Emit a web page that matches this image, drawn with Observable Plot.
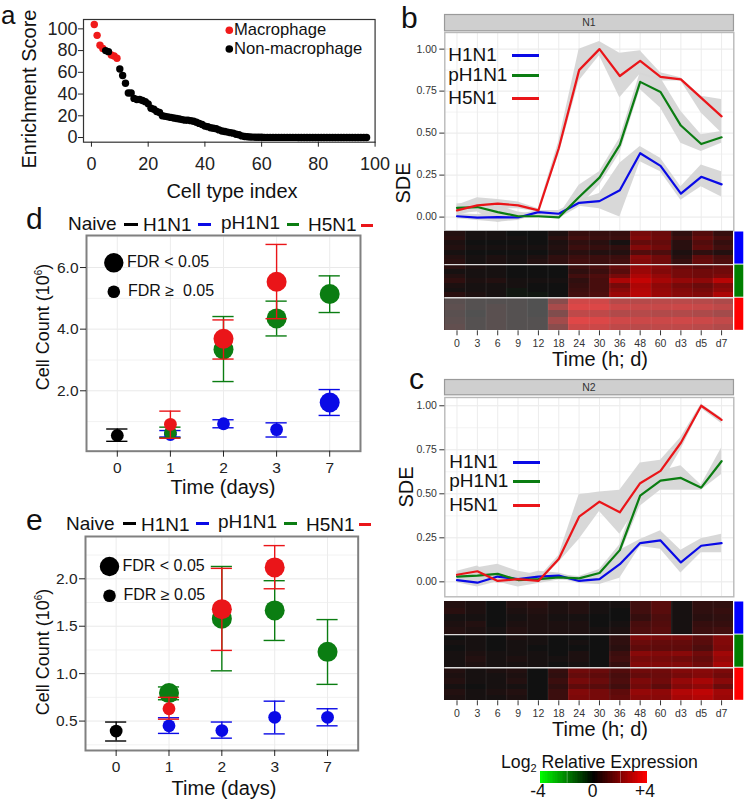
<!DOCTYPE html>
<html><head><meta charset="utf-8">
<script src="https://cdn.jsdelivr.net/npm/d3@7"></script>
<script src="https://cdn.jsdelivr.net/npm/@observablehq/plot@0.6"></script>
<style>
html,body{margin:0;padding:0;background:#fff}
#page{position:relative;width:744px;height:800px;overflow:hidden;font-family:"Liberation Sans",Arial,sans-serif;color:#111}
#page svg{position:absolute;background:transparent;overflow:visible}
.t{position:absolute;white-space:nowrap;line-height:.78}
.d{position:absolute}
</style></head><body><div id="page"></div>
<script>
// ---------- Panel a ----------
const enrichment = [104,94,85,82,80,79,76,75,73,63,57,50,41,41,36,35,35,34,33,31,27,26,24,23,20,19.5,19,18.5,18,17.5,17,16.5,16,16,15.5,15,14,13,12,10.5,10,9,8.5,8,7,6,5.5,5,4.5,4,3,2.5,1.5,1,.7,.5,.4,.3,.2,.2,.1,.1,.1,.1,.1,.1,.1,.1,.1,.1,.1,.1,0,0,0,0,0,0,0,0,0,0,0,0,0,0,0,0,0,0,0,0,0,0,0,0,0];
const macrophageIdx = [1,2,3,4,7,8,9];
// ---------- Time-course labels ----------
const timeLabels = ["0","3","6","9","12","18","24","30","36","48","60","d3","d5","d7"];
// ---------- Panel b, N1 ----------
const n1H1 = [.005,-.003,0,-.002,.03,.02,.085,.095,.16,.38,.305,.14,.24,.195];
const n1H1lo = [-.01,-.02,-.03,-.02,.015,0,.065,.05,0,.33,.27,.10,.18,.12];
const n1H1hi = [.02,.015,.03,.015,.04,.04,.1,.14,.32,.42,.35,.18,.31,.27];
const n1P = [.055,.06,.03,.005,.005,-.002,.12,.235,.43,.805,.745,.545,.435,.475];
const n1Plo = [.02,.03,-.03,-.01,-.005,-.01,.06,.19,.38,.76,.65,.44,.39,.44];
const n1Phi = [.08,.08,.07,.03,.015,.01,.19,.27,.47,.86,.83,.63,.49,.51];
const n1H5 = [.04,.07,.08,.07,.04,.41,.875,1,.84,.93,.835,.82,.71,.6];
const n1H5lo = [.01,.04,.05,.05,.03,.37,.81,.96,.71,.85,.81,.81,.62,.5];
const n1H5hi = [.07,.115,.105,.09,.05,.45,1,1.045,.975,.99,.86,.83,.72,.7];
// ---------- Panel c, N2 ----------
const n2H1 = [.01,-.005,.03,.015,.03,.035,.005,.015,.1,.22,.235,.11,.205,.22];
const n2H1lo = [-.005,-.03,0,-.005,0,.02,-.01,-.015,.02,.2,.185,.05,.165,.165];
const n2H1hi = [.02,.02,.05,.03,.06,.05,.02,.04,.18,.24,.29,.18,.245,.27];
const n2P = [.03,.035,.045,.01,.015,.025,.02,.05,.18,.49,.575,.59,.535,.685];
const n2Plo = [.015,0,0,-.03,-.01,.01,.005,.03,.15,.43,.52,.52,.52,.61];
const n2Phi = [.05,.08,.1,.06,.04,.04,.03,.07,.21,.54,.63,.66,.55,.76];
const n2H5 = [.04,.06,.005,.015,.005,.13,.37,.455,.395,.56,.63,.79,1,.92];
const n2H5lo = [.02,.03,-.01,-.01,-.005,.11,.24,.4,.27,.45,.55,.75,.985,.9];
const n2H5hi = [.06,.09,.02,.04,.02,.15,.495,.51,.52,.675,.69,.82,1.01,.93];
// ---------- Heatmaps (log2 relative expression) ----------
const heatN1H1 = [
 [.3,.1,.1,0,0,.2,.6,.6,.6,1.7,1.5,.5,1.1,.6],
 [.4,.1,.1,.1,0,.4,.8,.7,.7,1.9,1.6,.7,1.4,.9],
 [.2,0,0,0,0,.2,.5,.4,.1,1.4,1.4,.4,1.1,.6],
 [.3,.1,.1,.1,.1,.3,.7,.6,.5,1.9,1.6,.4,1.3,.8],
 [.1,0,0,0,0,.2,.4,.3,.3,1.1,1,.2,.5,.3],
 [.3,.1,.2,.1,.2,.5,.7,.7,.7,2,1.6,.4,1.3,.9],
 [.4,.1,.2,.1,.3,.5,.8,.7,.8,1.9,1.6,.6,1.4,1]];
const heatN1P = [
 [.4,.2,.1,0,0,0,.7,.9,1.4,2.2,2,1.5,1.3,1.5],
 [.1,.1,.1,0,0,0,.5,.7,1.2,2.3,1.9,1.7,1.6,1.6],
 [.3,.1,.1,0,0,0,.8,1,1.7,2.6,2.2,1.7,1.6,1.8],
 [.5,.2,.3,.1,.1,.1,.5,.9,2.6,3,2.5,2.2,2.1,2.8],
 [.2,.1,.1,.1,0,0,.6,.9,1.7,2.6,2.1,1.7,1.5,1.9],
 [.1,.1,.1,-.1,0,0,.7,.9,2,2.7,2.2,1.9,1.7,2.1],
 [.4,.2,.1,-.1,-.1,0,.8,1,2.3,2.8,2.3,2,1.9,2.6]];
const heatN1H5 = [
 [.2,.1,.1,.1,0,1.3,2.9,2.9,2.3,2.3,2.4,2.4,2.3,2.1],
 [.3,.1,.2,.1,0,2,3.2,3.2,2.8,2.7,2.7,2.8,2.7,2.5],
 [.2,0,.2,.1,0,1.1,2.5,2.5,2.2,2.3,2.2,2.2,2.1,1.9],
 [.3,.1,.2,.1,.1,1.9,3.3,3.2,2.9,2.8,2.8,2.9,2.8,2.6],
 [.4,.1,.2,.1,.1,1.3,2.8,2.8,2.5,2.4,2.5,2.5,2.4,2.2]];
const heatN2H1 = [
 [.3,.2,0,.3,.4,.2,.3,.1,.1,.8,1.2,.1,.5,.5],
 [.4,.2,0,.2,.3,.2,.3,.1,0,.8,1.2,.1,.5,.6],
 [.1,.1,0,.1,.2,.1,.1,0,0,.6,1,.1,.4,.5],
 [.2,.3,0,.2,.2,.2,.2,0,.1,.9,1.1,.1,.6,.6],
 [.3,.2,.1,.3,.2,.2,.2,.1,.2,1,1.2,.1,.7,.8]];
const heatN2P = [
 [0,.1,0,.2,.1,0,0,0,.5,1.8,1.7,1.7,1.3,1.9],
 [.1,.1,0,.1,.1,0,.1,0,.5,1.5,1.4,1.4,1.2,1.9],
 [0,.1,0,.1,0,0,0,0,.4,1.3,1.3,1.3,1,1.8],
 [.1,.2,.1,.1,.1,0,.2,0,.7,2,1.9,2,1.6,2.4],
 [.1,.3,.1,.2,.1,.1,.2,0,.8,1.7,1.7,1.6,1.4,2.2],
 [.1,.2,.1,.1,.1,0,.1,0,.6,1.9,1.9,1.9,1.6,2.5]];
const heatN2H5 = [
 [.3,.1,.2,.3,0,.6,1.6,1.5,1.1,1.6,1.6,1.9,2,1.8],
 [.2,.1,.1,.2,0,.5,1.4,1.3,.9,1.4,1.5,1.7,1.9,1.6],
 [.3,.1,.1,.3,0,.7,1.7,1.5,1,1.8,1.6,2.2,2.5,2],
 [.1,0,.1,.1,0,.5,1.3,1.2,.8,1.6,1.3,1.9,2.1,1.5],
 [.3,.1,.2,.3,0,.7,1.9,1.7,1.3,2.2,2.1,2.7,2.9,2.4],
 [.2,.1,.1,.2,0,.7,1.8,1.7,1.4,2,2,2.5,2.7,2.3]];
// ---------- Panels d, e: [day index, mean, low, high, FDR<0.05] ----------
const dayLabels = ["0","1","2","3","7"];
const dNaive = [[0,.55,.36,.76,0]];
const dH1 = [[1,.58,.5,.71,0],[2,.93,.8,1.06,0],[3,.74,.5,.96,0],[4,1.62,1.2,2.04,1]];
const dP = [[1,.64,.48,.82,0],[2,3.34,2.3,4.41,1],[3,4.35,3.78,4.91,1],[4,5.14,4.54,5.73,1]];
const dH5 = [[1,.91,.46,1.34,0],[2,3.69,3.03,4.3,1],[3,5.54,4.34,6.75,1]];
const eNaive = [[0,.395,.29,.49,0]];
const eH1 = [[1,.45,.37,.535,0],[2,.4,.32,.49,0],[3,.54,.365,.71,0],[4,.54,.45,.63,0]];
const eP = [[1,.795,.725,.86,1],[2,1.58,1.03,2.13,1],[3,1.667,1.35,1.98,1],[4,1.23,.887,1.57,1]];
const eH5 = [[1,.63,.52,.75,0],[2,1.68,1.245,2.11,1],[3,2.12,1.895,2.35,1]];

const BLUE="#0a0ae6", GREEN="#0b7d12", RED="#ea1519", BLACK="#000";
const page = document.getElementById("page");

function txt(html,x,y,size,o={}){
  const e=document.createElement("div");e.className="t";e.innerHTML=html;
  e.style.left=x+"px";e.style.top=y+"px";e.style.fontSize=size+"px";
  e.style.transform=o.rot?"translate(-50%,-50%) rotate(-90deg)":o.center?"translate(-50%,-50%)":"translateY(-50%)";
  if(o.lh)e.style.lineHeight=o.lh;
  page.appendChild(e);
}
function dash(x0,x1,y,c,w=3){
  const e=document.createElement("div");e.className="d";
  e.style.cssText+=`left:${x0}px;top:${Math.round(y-w/2)}px;width:${x1-x0}px;height:${w}px;background:${c};`;
  page.appendChild(e);
}
// place a Plot so its frame occupies the box x0..x1, y0..y1
function panel(box,m,opts){
  const [x0,y0,x1,y1]=box,[mt,mr,mb,ml]=m;
  const svg=Plot.plot({width:x1-x0+ml+mr,height:y1-y0+mt+mb,marginTop:mt,marginRight:mr,marginBottom:mb,marginLeft:ml,
    style:{fontFamily:'"Liberation Sans",Arial,sans-serif',background:"transparent",overflow:"visible"},...opts});
  svg.style.left=(x0-ml)+"px";svg.style.top=(y0-mt)+"px";
  page.appendChild(svg);
}

// ---- Panel a ----
const aRows=enrichment.map((v,i)=>({i:i+1,v,mac:macrophageIdx.includes(i+1)}));
panel([82.7,19,374.3,141.7],[2,14,30,50],{
  x:{domain:[-2.8,100]},y:{domain:[-4.3,108.6]},
  marks:[
    Plot.dot(aRows,{x:"i",y:"v",r:3.7,fill:d=>d.mac?"#f01a1a":"#000",sort:d=>d.mac?0:1}),
    Plot.frame({stroke:"#333",strokeWidth:1.2}),
    Plot.axisX({ticks:[0,20,40,60,80,100],tickSize:5,tickPadding:10,fontSize:18,label:null,color:"#222"}),
    Plot.axisY({ticks:[0,20,40,60,80,100],tickSize:5,tickPadding:1,fontSize:18,label:null,color:"#222"})
  ]});
txt("a",1,14.6,26,{lh:.4});
txt("Enrichment Score",30,89,20,{rot:1});
txt("Cell type index",232,192,20,{center:1});
txt("Macrophage",234,29.5,16.6,{lh:.7});
txt("Non-macrophage",234,48.5,16.6,{lh:.7});
panel([220,24,240,54],[0,0,0,0],{x:{domain:[0,1],axis:null},y:{domain:[0,1],axis:null},
  marks:[Plot.dot(["Macrophage"],{frameAnchor:"top-left",dx:8.8,dy:5.7,r:3.8,fill:"#f01a1a"}),
         Plot.dot(["Non-macrophage"],{frameAnchor:"top-left",dx:8.8,dy:24.5,r:3.8,fill:"#000"})]});

// ---- Line panels ----
const hours=timeLabels.map((_,i)=>i);
function tidy(m,lo,hi){return m.map((v,i)=>({i,v,lo:lo[i],hi:hi[i]}));}
function linePanel(box,ydom,series){
  const minor=[.125,.375,.625,.875];
  panel(box,[2,10.7,2,54.3],{
    x:{domain:[-.6,13.6],axis:null},y:{domain:ydom,axis:null},
    marks:[
      Plot.ruleY(minor,{stroke:"#f3f3f3"}),
      Plot.ruleY([0,.25,.5,.75,1],{stroke:"#e8e8e8"}),
      Plot.ruleX(hours,{stroke:"#ececec"}),
      ...series.map(s=>Plot.areaY(s.rows,{x:"i",y1:"lo",y2:"hi",fill:"#d6d6d6",fillOpacity:.95})),
      ...series.map(s=>Plot.lineY(s.rows,{x:"i",y:"v",stroke:s.c,strokeWidth:2.2})),
      Plot.frame({stroke:"#b9b9b9",strokeWidth:1.4}),
      Plot.axisY({ticks:[0,.25,.5,.75,1],tickFormat:d3.format(".2f"),tickSize:5,tickPadding:3,fontSize:10.5,label:null,color:"#333"})
    ]});
}
function strip(box,label){
  panel(box,[0,0,0,0],{x:{domain:[0,1],axis:null},y:{domain:[0,1],axis:null},
    marks:[Plot.frame({fill:"#cfcfcf",stroke:"#9a9a9a",strokeWidth:1.2}),
           Plot.text([label],{frameAnchor:"middle",fontSize:10.5,fill:"#333"})]});
}
function heatPanel(box,groups,overlayGroup){
  const cols=14.2/14;
  const rows=[];
  groups.forEach((g,gi)=>g.forEach((r,ri)=>r.forEach((v,j)=>rows.push({
    x1:-.6+j*cols,x2:-.6+(j+1)*cols,y1:gi+ri/g.length,y2:gi+(ri+1)/g.length,v}))));
  const bars=[{g:0,c:"#0000ff"},{g:1,c:"#007f00"},{g:2,c:"#ff0000"}];
  const seps=d3.range(1,14).map(j=>-.6+j*cols);
  panel(box,[0,10.7,26,54.3],{
    x:{domain:[-.6,13.6],axis:null},y:{domain:[3,0],axis:null},
    color:{type:"linear",domain:[-4,0,4],range:["#00ff00","#111111","#ff0000"]},
    marks:[
      Plot.rect(rows,{x1:"x1",x2:"x2",y1:"y1",y2:"y2",fill:"v",shapeRendering:"crispEdges"}),
      Plot.ruleX(seps,{stroke:"#fff",strokeOpacity:.09}),
      ...(overlayGroup==null?[]:[Plot.rect([overlayGroup],{x1:-.6,x2:13.6,y1:d=>d,y2:d=>d+1,fill:"#fff",fillOpacity:.27})]),
      Plot.ruleY([1,2],{stroke:"#ddd",strokeWidth:1.4}),
      Plot.rect(bars,{x1:13.65,x2:14.09,y1:d=>d.g+.015,y2:d=>d.g+.985,fill:d=>d.c}),
      Plot.axisX({ticks:hours,tickFormat:i=>timeLabels[i],tickSize:5,tickPadding:3.5,fontSize:10.5,label:null,color:"#333"})
    ]});
}
const X0=444.3,X1=733.3;
strip([X0,13.7,X1,30],"N1");
linePanel([X0,31.7,X1,230],[-.0815,1.099],[
  {rows:tidy(n1H1,n1H1lo,n1H1hi),c:BLUE},{rows:tidy(n1P,n1Plo,n1Phi),c:GREEN},{rows:tidy(n1H5,n1H5lo,n1H5hi),c:RED}]);
heatPanel([X0,230.7,X1,330],[heatN1H1,heatN1P,heatN1H5],2);
strip([X0,379,X1,394.3],"N2");
linePanel([X0,396.7,X1,596],[-.085,1.047],[
  {rows:tidy(n2H1,n2H1lo,n2H1hi),c:BLUE},{rows:tidy(n2P,n2Plo,n2Phi),c:GREEN},{rows:tidy(n2H5,n2H5lo,n2H5hi),c:RED}]);
heatPanel([X0,600.7,X1,700],[heatN2H1,heatN2P,heatN2H5],null);

txt("b",401,18,30);
txt("c",409,379,30);
txt("SDE",404,182.7,20,{rot:1});
txt("SDE",406.7,486.7,20,{rot:1});
txt("Time (h; d)",600,360,20,{center:1});
txt("Time (h; d)",600,730,20,{center:1});
[["H1N1",BLUE,55],["pH1N1",GREEN,75],["H5N1",RED,97.5]].forEach(([s,c,y])=>{
  txt(s,448.3,y,19); dash(512.3,539.3,y+.5,c);
});
[["H1N1",BLUE,462],["pH1N1",GREEN,481],["H5N1",RED,505]].forEach(([s,c,y])=>{
  txt(s,449.3,y,19); dash(513.3,540,y+.5,c);
});

// ---- Colour legend ----
const legendSteps=d3.range(-4,4,.125);
panel([540,771,646.7,782.7],[0,0,0,0],{
  x:{domain:[-4,4],axis:null},y:{domain:[0,1],axis:null},
  color:{type:"linear",domain:[-4,0,4],range:["#00ff00","#000000","#ff0000"]},
  marks:[Plot.rect(legendSteps,{x1:d=>d,x2:d=>d+.125,y1:0,y2:1,fill:d=>d+.0625,shapeRendering:"crispEdges"}),
         Plot.ruleX([-2,2],{stroke:"#fff",strokeOpacity:.3})]});
txt('Log<sub style="font-size:11px;line-height:0">2</sub> Relative Expression',501,762,17.7,{lh:.7});
txt("-4",538,791,17.5,{center:1,lh:.7});
txt("0",592.7,791,17.5,{center:1,lh:.7});
txt("+4",645,791,17.5,{center:1,lh:.7});

// ---- Error-bar panels ----
function toRows(a){return a.map(([i,m,lo,hi,sig])=>({i,m,lo,hi,sig}));}
function errMarks(arr,c){
  const r=toRows(arr),cap=.2;
  return [
    Plot.ruleX(r,{x:"i",y1:"lo",y2:"hi",stroke:c,strokeWidth:1.4}),
    Plot.ruleY(r,{y:"lo",x1:d=>d.i-cap,x2:d=>d.i+cap,stroke:c,strokeWidth:1.4}),
    Plot.ruleY(r,{y:"hi",x1:d=>d.i-cap,x2:d=>d.i+cap,stroke:c,strokeWidth:1.4}),
    Plot.dot(r.filter(d=>!d.sig),{x:"i",y:"m",r:6.4,fill:c}),
    Plot.dot(r.filter(d=>d.sig),{x:"i",y:"m",r:10,fill:c})
  ];
}
function countPanel(box,ydom,major,minor,series){
  panel(box,[2,4,28,50],{
    x:{domain:[-.58,4.58],axis:null},y:{domain:ydom,axis:null},
    marks:[
      Plot.ruleY(minor,{stroke:"#f2f2f2"}),
      Plot.ruleY(major,{stroke:"#e9e9e9"}),
      Plot.ruleX([0,1,2,3,4],{stroke:"#ececec"}),
      ...series.flatMap(([a,c])=>errMarks(a,c)),
      Plot.frame({stroke:"#808080",strokeWidth:2}),
      Plot.axisX({ticks:[0,1,2,3,4],tickFormat:i=>dayLabels[i],tickSize:6,tickPadding:4.5,fontSize:15.5,label:null,color:"#222"}),
      Plot.axisY({ticks:major,tickFormat:d3.format(".1f"),tickSize:6,tickPadding:2,fontSize:15.5,label:null,color:"#222"})
    ]});
}
countPanel([86,235,360,450.7],[.04,7.04],[2,4,6],[1,3,5,7],[[dNaive,BLACK],[dH1,BLUE],[dP,GREEN],[dH5,RED]]);
countPanel([85,536,357.7,750],[.19,2.446],[.5,1,1.5,2],[.25,.75,1.25,1.75,2.25],[[eNaive,BLACK],[eH1,BLUE],[eP,GREEN],[eH5,RED]]);

function legendRow(y,xs,ds){
  ["Naive","H1N1","pH1N1","H5N1"].forEach((s,k)=>txt(s,xs[k],y+(k==2?-1.5:k==0?0:1),19));
  [BLACK,BLUE,GREEN,RED].forEach((c,k)=>dash(ds[k][0],ds[k][1],y+(k==3?1:0),c,3));
}
txt("d",26,219,30);
legendRow(224,[68,143,221,308],[[124,138],[198,211],[287,299],[361,373]]);
txt('Cell Count (10<sup style="font-size:10px;line-height:0">6</sup>)',43,327,18,{rot:1});
txt("Time (days)",223,487.5,20,{center:1});
txt("FDR &lt; 0.05",127,262,16);
txt("FDR ≥&nbsp; 0.05",128,291.3,16);

txt("e",26,520,30);
legendRow(523.5,[66,141,218,306],[[122.5,135.5],[196,208.5],[283.5,296.5],[358.5,371]]);
txt('Cell Count (10<sup style="font-size:10px;line-height:0">6</sup>)',43,652,18,{rot:1});
txt("Time (days)",224,788.5,20,{center:1});
txt("FDR &lt; 0.05",122.5,566,16);
txt("FDR ≥ 0.05",123.5,595,16);

panel([100,250,125,300],[0,0,0,0],{x:{domain:[0,1],axis:null},y:{domain:[0,1],axis:null},
  marks:[Plot.dot(["FDR < 0.05"],{frameAnchor:"top-left",dx:13.3,dy:12.3,r:9.7,fill:"#000"}),
         Plot.dot(["FDR >= 0.05"],{frameAnchor:"top-left",dx:13.3,dy:41.3,r:6.3,fill:"#000"})]});
panel([100,552,125,602],[0,0,0,0],{x:{domain:[0,1],axis:null},y:{domain:[0,1],axis:null},
  marks:[Plot.dot(["FDR < 0.05"],{frameAnchor:"top-left",dx:9,dy:14,r:9.7,fill:"#000"}),
         Plot.dot(["FDR >= 0.05"],{frameAnchor:"top-left",dx:9,dy:43.3,r:6.3,fill:"#000"})]});
</script></body></html>
